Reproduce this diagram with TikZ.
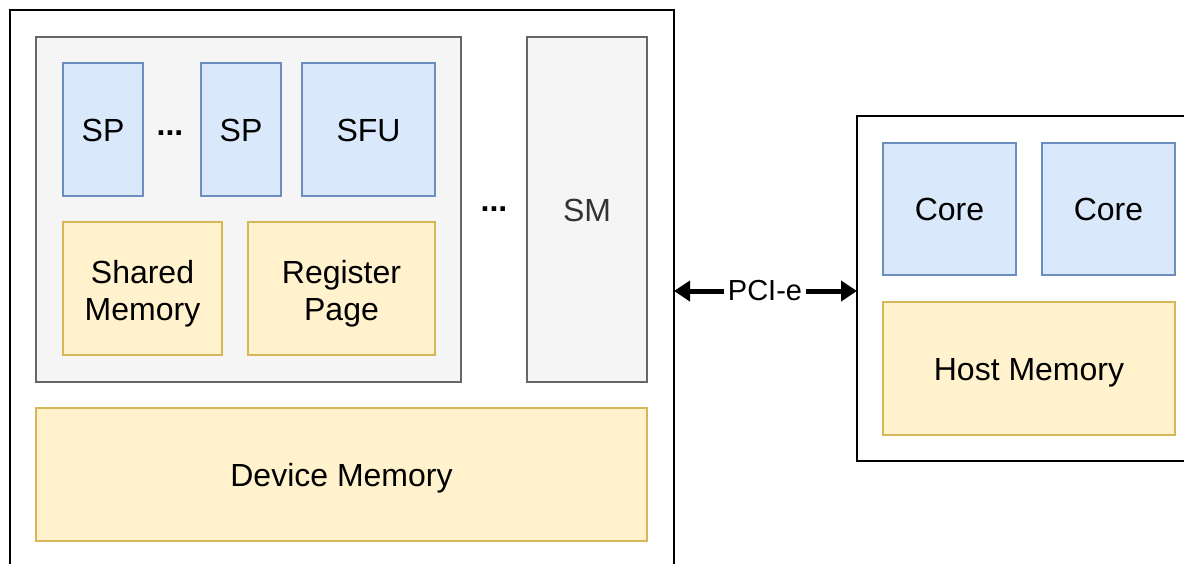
\documentclass[tikz,border=0pt]{standalone}
\usepackage{fontspec}
\setmainfont{Liberation Sans}
\usetikzlibrary{arrows.meta,fit}
\definecolor{bfill}{HTML}{DAE8FC}
\definecolor{bline}{HTML}{6C8EBF}
\definecolor{yfill}{HTML}{FFF2CC}
\definecolor{yline}{HTML}{D6B656}
\definecolor{gfill}{HTML}{F5F5F5}
\definecolor{gline}{HTML}{666666}
\tikzset{
  px/.style={x=0.5pt,y=-0.5pt},
  box/.style={draw,line width=1pt,inner sep=0pt,outer sep=0pt},
  bluebox/.style={box,fill=bfill,draw=bline},
  yelbox/.style={box,fill=yfill,draw=yline},
  graybox/.style={box,fill=gfill,draw=gline},
  outerbox/.style={box,draw=black,fill=white},
  txt/.style={inner sep=0pt,align=center,font=\fontsize{16}{18.5}\selectfont,text height=11.5pt,text depth=0pt},
  twoline/.style={inner sep=0pt,align=center,font=\fontsize{16}{18.5}\selectfont,yshift=-2.5pt},
  graytxt/.style={txt,text=black!80},
  dots/.style={font=\fontsize{16}{16}\selectfont\bfseries,inner sep=0pt},
  bigarrow/.style={line width=2.5pt,-{Triangle[length=8pt,width=10pt]}},
  lbl/.style={fill=white,inner sep=2pt,font=\fontsize{14.5}{16}\selectfont}
}
\begin{document}
\begin{tikzpicture}[px]
\useasboundingbox (0,0) rectangle (1184,563);
\clip (0,0) rectangle (1184,563);
\fill[white] (0,0) rectangle (1184,563);
% GPU side
\node[outerbox,fit={(10,10) (674,620)}] (gpu) {};
\node[graybox,fit={(36,37) (461,382)}] (smgrp) {};
\node[bluebox,fit={(63,63) (143,196)}] (sp1) {};
\node[txt] at (sp1) {SP};
\node[dots] (d1) at (170,133) {...};
\node[bluebox,fit={(201,63) (281,196)}] (sp2) {};
\node[txt] at (sp2) {SP};
\node[bluebox,fit={(302,63) (435,196)}] (sfu) {};
\node[txt] at (sfu) {SFU};
\node[yelbox,fit={(63,222) (222,355)}] (shm) {};
\node[twoline] at (shm) {Shared\\Memory};
\node[yelbox,fit={(248,222) (435,355)}] (reg) {};
\node[twoline] at (reg) {Register\\Page};
\node[dots] (d2) at (494,209) {...};
\node[graybox,fit={(527,37) (647,382)}] (sm) {};
\node[graytxt] at (sm) {SM};
\node[yelbox,fit={(36,408) (647,541)}] (dev) {};
\node[txt] at (dev) {Device Memory};
% Host side
\node[outerbox,fit={(857,116) (1200,461)}] (host) {};
\node[bluebox,fit={(883,143) (1016,275)}] (core1) {};
\node[txt] at (core1) {Core};
\node[bluebox,fit={(1042,143) (1175,275)}] (core2) {};
\node[txt] at (core2) {Core};
\node[yelbox,fit={(883,302) (1175,435)}] (hmem) {};
\node[txt] at (hmem) {Host Memory};
% PCI-e
\node[lbl] (pci) at (765,291) {PCI-e};
\draw[bigarrow] (pci) -- (pci -| gpu.east);
\draw[bigarrow] (pci) -- (pci -| host.west);
\end{tikzpicture}
\end{document}
